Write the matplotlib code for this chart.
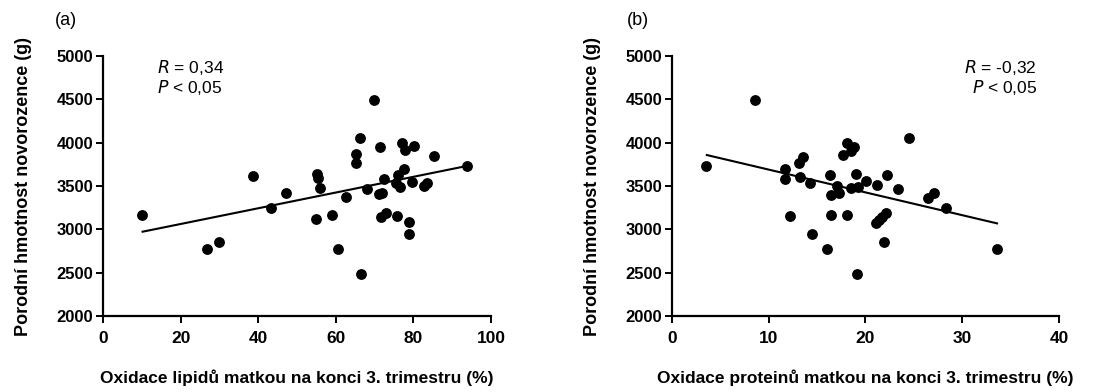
import matplotlib.pyplot as plt
import numpy as np

plt.rcParams['font.family'] = ['Liberation Sans', 'DejaVu Sans']

# (a) oxidace lipidu (%) vs porodni hmotnost (g)
lip_x = [10.0, 26.7, 30.0, 38.7, 43.4, 47.2, 55.1, 55.5, 55.9, 54.8,
         58.9, 62.6, 60.6, 66.4, 65.2, 65.2, 66.3, 69.9, 68.1, 71.3,
         71.2, 72.0, 72.5, 71.6, 72.9, 75.7, 75.9, 77.0, 77.8, 80.2,
         77.6, 75.5, 76.5, 79.6, 78.9, 78.9, 82.7, 83.6, 85.3, 93.7]
lip_y = [3165, 2775, 2857, 3620, 3250, 3415, 3635, 3596, 3473, 3115,
         3165, 3369, 2773, 2484, 3866, 3769, 4054, 4492, 3462, 3946,
         3404, 3423, 3577, 3139, 3185, 3157, 3627, 4000, 3915, 3961,
         3696, 3531, 3492, 3550, 3081, 2946, 3504, 3531, 3846, 3731]
lip_fit_x = [10.2, 93.7]
lip_fit_y = [2973, 3731]

# (b) oxidace proteinu (%) vs porodni hmotnost (g)
prot_x = [3.5, 8.6, 11.7, 11.7, 12.2, 13.1, 13.5, 13.2, 14.3, 14.5,
          16.0, 16.3, 16.4, 16.4, 17.1, 17.3, 17.7, 18.1, 18.5, 18.8,
          18.1, 19.0, 18.5, 19.2, 19.1, 20.1, 21.2, 22.2, 21.1, 21.4,
          21.7, 22.1, 21.9, 23.4, 26.5, 27.1, 24.5, 28.3, 33.6]
prot_y = [3734, 4489, 3692, 3577, 3157, 3769, 3838, 3600, 3531, 2946,
          2773, 3623, 3400, 3165, 3500, 3423, 3862, 3992, 3907, 3946,
          3165, 3635, 3473, 3492, 2488, 3554, 3512, 3623, 3077, 3108,
          3146, 3185, 2854, 3462, 3366, 3416, 4054, 3246, 2773]
prot_fit_x = [3.6, 33.6]
prot_fit_y = [3858, 3069]

ylabel = 'Porodní hmotnost novorozence (g)'
panels = [
    dict(rect=[0.0941, 0.1939, 0.3543, 0.663], x=lip_x, y=lip_y,
         fx=lip_fit_x, fy=lip_fit_y, xlim=(0, 100), xticks=np.arange(0, 101, 20),
         xlabel='Oxidace lipidů matkou na konci 3. trimestru (%)',
         tag='(a)', tag_x=-0.124, r='0,34', stat_x=0.14, ha='left'),
    dict(rect=[0.6137, 0.1939, 0.3534, 0.663], x=prot_x, y=prot_y,
         fx=prot_fit_x, fy=prot_fit_y, xlim=(0, 40), xticks=np.arange(0, 41, 10),
         xlabel='Oxidace proteinů matkou na konci 3. trimestru (%)',
         tag='(b)', tag_x=-0.116, r='-0,32', stat_x=0.943, ha='right'),
]

fig = plt.figure(figsize=(10.95, 3.92), dpi=100)

for p in panels:
    ax = fig.add_axes(p['rect'])
    ax.scatter(p['x'], p['y'], s=46, color='black', zorder=3, clip_on=False)
    ax.plot(p['fx'], p['fy'], color='black', lw=1.5, zorder=2)

    ax.set_xlim(*p['xlim'])
    ax.set_ylim(2000, 5000)
    ax.set_xticks(p['xticks'])
    ax.set_yticks(np.arange(2000, 5001, 500))
    for side in ['top', 'right']:
        ax.spines[side].set_visible(False)
    for side in ['left', 'bottom']:
        ax.spines[side].set_linewidth(1.6)
    ax.tick_params(direction='out', length=5, width=1.4, labelsize=12, pad=2)
    ax.tick_params(axis='x', labelsize=12.5, pad=6)
    for lab in ax.get_xticklabels() + ax.get_yticklabels():
        lab.set_fontweight('bold')

    ax.set_xlabel(p['xlabel'], fontsize=12.5, fontweight='bold', labelpad=17)
    ax.set_ylabel(ylabel, fontsize=13, fontweight='bold', labelpad=18)

    ax.text(p['tag_x'], 1.138, p['tag'], transform=ax.transAxes, fontsize=13,
            ha='left', va='center')
    ax.text(p['stat_x'], 0.958, '$\\it{R}$ = ' + p['r'], transform=ax.transAxes,
            fontsize=12.5, ha=p['ha'], va='center')
    ax.text(p['stat_x'], 0.88, '$\\it{P}$ < 0,05', transform=ax.transAxes,
            fontsize=12.5, ha=p['ha'], va='center')

fig.savefig('out.png', dpi=100)
